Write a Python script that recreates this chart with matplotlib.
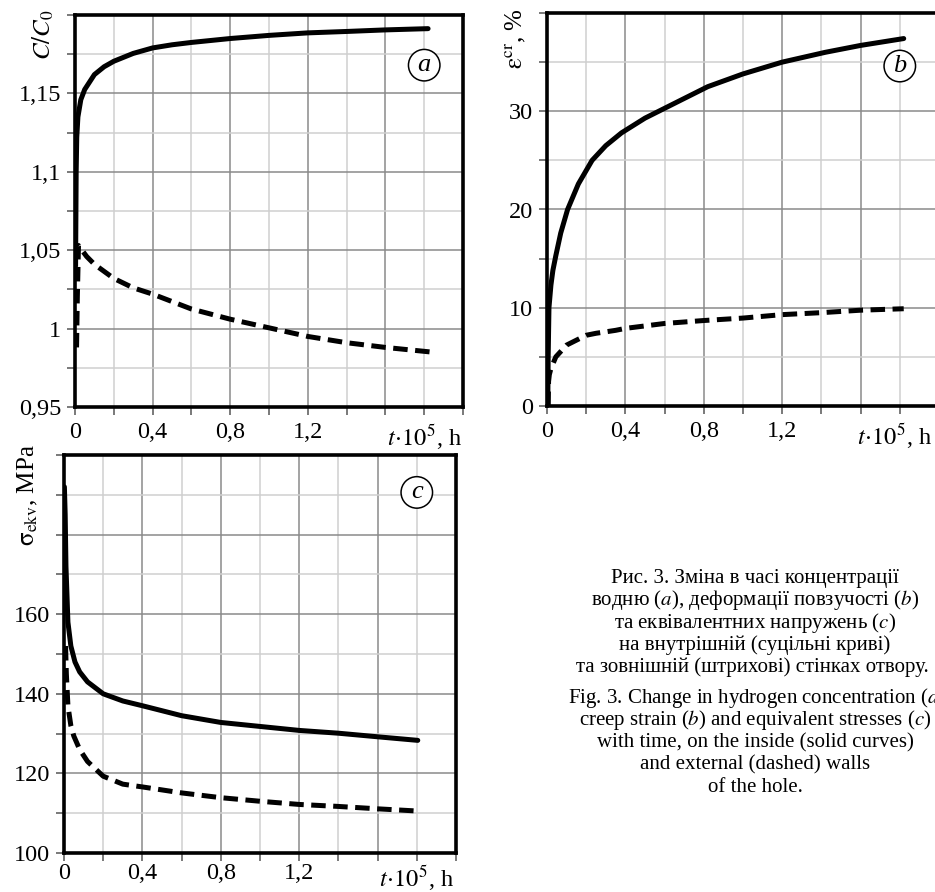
import numpy as np
import matplotlib
matplotlib.use("Agg")
import matplotlib.pyplot as plt
import matplotlib.transforms as mtransforms

plt.rcParams['font.family'] = ['Liberation Serif', 'DejaVu Serif']
plt.rcParams['mathtext.fontset'] = 'stix'

# ---------------- data ----------------
a_solid_t = [0.003, 0.006, 0.009, 0.015, 0.03, 0.05, 0.1, 0.15, 0.2, 0.25, 0.3, 0.4, 0.5, 0.6, 0.8, 1.0, 1.2, 1.4, 1.6, 1.82]
a_solid = [1.04, 1.10, 1.122, 1.135, 1.146, 1.1525, 1.162, 1.167, 1.1705, 1.173, 1.1755, 1.179, 1.181, 1.1825, 1.185, 1.187, 1.1886, 1.1895, 1.1905, 1.1913]
a_dash_t = [0.008, 0.012, 0.018, 0.03, 0.06, 0.1, 0.2, 0.3, 0.4, 0.6, 0.8, 1.0, 1.2, 1.4, 1.6, 1.84]
a_dash = [0.988, 1.02, 1.053, 1.051, 1.046, 1.041, 1.032, 1.026, 1.022, 1.0125, 1.006, 1.0005, 0.995, 0.991, 0.988, 0.985]

b_solid_t = [0.004, 0.006, 0.01, 0.02, 0.03, 0.045, 0.07, 0.105, 0.16, 0.23, 0.3, 0.38, 0.5, 0.57, 0.82, 1.0, 1.2, 1.42, 1.6, 1.82]
b_solid = [0, 5, 10, 12.3, 13.8, 15.3, 17.6, 20, 22.6, 25, 26.5, 27.8, 29.3, 30, 32.5, 33.8, 35, 36, 36.7, 37.4]
b_dash_t = [0.006, 0.008, 0.012, 0.02, 0.045, 0.1, 0.2, 0.25, 0.35, 0.4, 0.6, 0.8, 1.0, 1.2, 1.4, 1.6, 1.82]
b_dash = [0, 2.5, 3.2, 3.8, 5.0, 6.2, 7.2, 7.4, 7.7, 7.9, 8.4, 8.7, 8.95, 9.3, 9.5, 9.75, 9.9]

c_solid_t = [0.002, 0.006, 0.01, 0.02, 0.035, 0.056, 0.08, 0.12, 0.2, 0.3, 0.4, 0.6, 0.8, 1.0, 1.2, 1.4, 1.6, 1.805]
c_solid = [192, 185, 172, 158, 152, 148, 145.5, 143, 140, 138.2, 137, 134.5, 132.8, 131.8, 130.8, 130.1, 129.2, 128.3]
c_dash_t = [0.008, 0.012, 0.02, 0.035, 0.05, 0.08, 0.12, 0.2, 0.3, 0.4, 0.6, 0.8, 1.0, 1.2, 1.4, 1.6, 1.82]
c_dash = [152, 145, 137, 132, 129.4, 126, 123, 119.3, 117.3, 116.6, 115.1, 113.9, 113, 112.2, 111.7, 111.1, 110.5]

x_major = [0, 0.4, 0.8, 1.2, 1.6, 2.0]
x_major_labels = ['0', '0,4', '0,8', '1,2', '', '']
x_minor = [0.2, 0.6, 1.0, 1.4, 1.8]
x_minor_labels = ['', '', '', '', r'$t\!\cdot\!10^5$, h']

a_y_major = [0.95, 1.0, 1.05, 1.1, 1.15, 1.2]
a_y_labels = ['0,95', '1', '1,05', '1,1', '1,15', '']
a_y_minor = [0.975, 1.025, 1.075, 1.125, 1.175]

b_y_major = [0, 10, 20, 30, 40]
b_y_labels = ['0', '10', '20', '30', '']
b_y_minor = [5, 15, 25, 35]

c_y_major = [100, 120, 140, 160, 180, 200]
c_y_labels = ['100', '120', '140', '160', '', '']
c_y_minor = [110, 130, 150, 170, 190]

caption_ua = [
    "Рис. 3. Зміна в часі концентрації",
    "водню ($a$), деформації повзучості ($b$)",
    "та еквівалентних напружень ($c$)",
    "на внутрішній (суцільні криві)",
    "та зовнішній (штрихові) стінках отвору.",
]
caption_en = [
    "Fig. 3. Change in hydrogen concentration ($a$),",
    "creep strain ($b$) and equivalent stresses ($c$)",
    "with time, on the inside (solid curves)",
    "and external (dashed) walls",
    "of the hole.",
]

# ---------------- figure ----------------
W, H = 935, 892
fig = plt.figure(figsize=(W / 100, H / 100), dpi=100)


def px_axes(l, r, t, b):
    return fig.add_axes([l / W, 1 - b / H, (r - l) / W, (b - t) / H])


TICK_FS = 17.5
LW = 3.6
DASH = (2.9, 1.5)


def style(ax, ylim, ymaj, ylab, ymin, xpad):
    ax.set_xlim(0, 2.0)
    ax.set_ylim(*ylim)
    ax.set_xticks(x_major, x_major_labels)
    ax.set_xticks(x_minor, x_minor_labels, minor=True)
    ax.set_yticks(ymaj, ylab)
    ax.set_yticks(ymin, minor=True)
    ax.grid(which='major', color='#8a8a8a', lw=1.1, zorder=0)
    ax.grid(which='minor', color='#cfcfcf', lw=1.1, zorder=0)
    ax.set_axisbelow(True)
    for s in ax.spines.values():
        s.set_linewidth(2.6)
        s.set_color('black')
        s.set_zorder(5)
    ax.tick_params(which='both', direction='out', length=6, width=1.1,
                   color='#555555', labelsize=TICK_FS, pad=4)
    ax.tick_params(axis='x', which='both', pad=xpad)


def circ(ax, x, y, s):
    ax.text(x, y, s, fontsize=19, style='italic', ha='center', va='center',
            bbox=dict(boxstyle='circle,pad=0.18', fc='white', ec='black', lw=1.1),
            zorder=6)


# panel a
axa = px_axes(75, 463, 15, 407)
style(axa, (0.95, 1.2), a_y_major, a_y_labels, a_y_minor, 5)
axa.plot(a_solid_t, a_solid, color='black', lw=LW, solid_capstyle='round', zorder=3)
axa.plot(a_dash_t, a_dash, color='black', lw=LW, dashes=DASH, zorder=3)
circ(axa, 1.8, 1.168, 'a')
axa.text(-0.082, 0.95, r'$C/C_0$', transform=axa.transAxes, rotation=90,
         ha='center', va='center', fontsize=18)

# panel b
axb = px_axes(547, 939, 13, 406)
style(axb, (0, 40), b_y_major, b_y_labels, b_y_minor, 5)
axb.plot(b_solid_t, b_solid, color='black', lw=LW, solid_capstyle='round', zorder=3)
axb.plot(b_dash_t, b_dash, color='black', lw=LW, dashes=DASH, zorder=3)
circ(axb, 1.8, 34.6, 'b')
axb.text(-0.08, 0.935, r'$\mathrm{\varepsilon}^{\mathrm{cr}}$, %', transform=axb.transAxes,
         rotation=90, ha='center', va='center', fontsize=18)
shift = mtransforms.ScaledTranslation(-5 / 100, 0, fig.dpi_scale_trans)
for lab in axb.get_xticklabels(minor=True):
    lab.set_transform(lab.get_transform() + shift)

# panel c
axc = px_axes(64, 456, 455, 853)
style(axc, (100, 200), c_y_major, c_y_labels, c_y_minor, 1.5)
axc.plot(c_solid_t, c_solid, color='black', lw=LW, solid_capstyle='round', zorder=3)
axc.plot(c_dash_t, c_dash, color='black', lw=LW, dashes=DASH, zorder=3)
circ(axc, 1.8, 190.6, 'c')
axc.text(-0.092, 0.9, r'$\mathrm{\sigma}_{\mathrm{ekv}}$, MPa', transform=axc.transAxes,
         rotation=90, ha='center', va='center', fontsize=18)

# caption
CFS = 15
cx = 755
for i, line in enumerate(caption_ua):
    y = 1 - (578 + i * 22.4) / H
    if i == 4:
        fig.text(576 / W, y, line, ha='left', va='center', fontsize=CFS)
    else:
        fig.text(cx / W, y, line, ha='center', va='center', fontsize=CFS)
for i, line in enumerate(caption_en):
    y = 1 - (698 + i * 22.4) / H
    if i == 0:
        fig.text(568 / W, y, line, ha='left', va='center', fontsize=CFS)
    else:
        fig.text(cx / W, y, line, ha='center', va='center', fontsize=CFS)

fig.savefig('out.png', dpi=100)
